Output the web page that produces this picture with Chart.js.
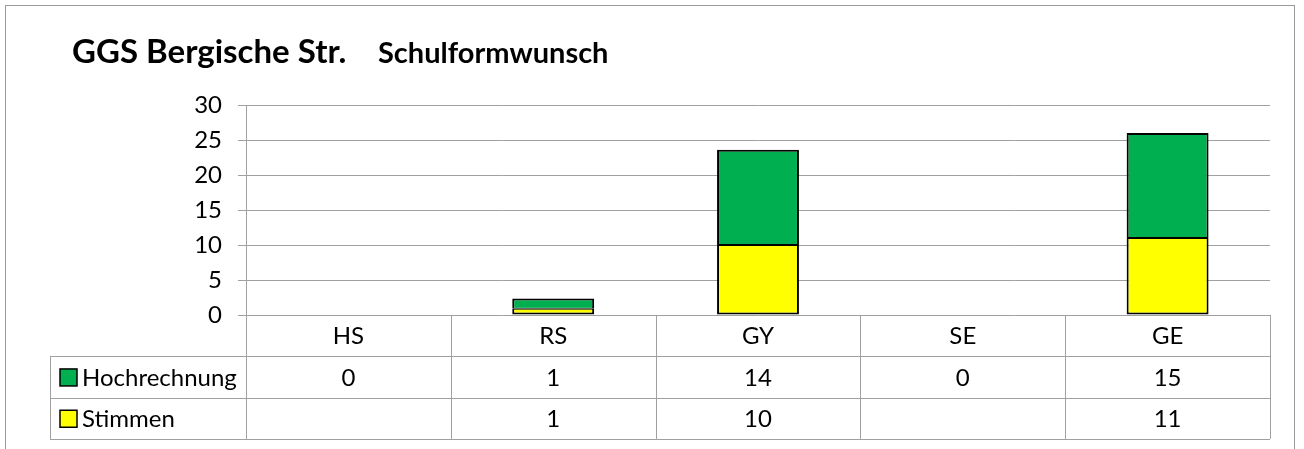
<!DOCTYPE html>
<html>
<head>
<meta charset="utf-8">
<script src="https://cdn.jsdelivr.net/npm/chart.js@4"></script>
<style>
  body { margin: 0; background: #fff; }
</style>
</head>
<body>
<canvas id="chart" width="1304" height="449"></canvas>
<script>
// DATEN
const schulformen = ['HS', 'RS', 'GY', 'SE', 'GE'];
const stimmen = [null, 0.9, 10, null, 11];
const hochrechnung = [0, 1.45, 13.6, 0, 15];
const yTicks = [0, 5, 10, 15, 20, 25, 30];

const titel = 'GGS Bergische Str.';
const untertitel = 'Schulformwunsch';

const gruen = '#00b050';
const gelb = '#ffff00';
const grau = '#a0a0a0';
const schrift = 'Lato, "Open Sans", sans-serif';

// Zeilen der Datentabelle (oben steht Hochrechnung)
const tabellenZeilen = [
  { name: 'Hochrechnung', werte: hochrechnung, farbe: gruen },
  { name: 'Stimmen', werte: stimmen, farbe: gelb }
];

const rahmenPlugin = {
  id: 'rahmen',
  beforeDraw(chart) {
    const ctx = chart.ctx;
    ctx.save();
    ctx.strokeStyle = '#9a9a9a';
    ctx.lineWidth = 1;
    ctx.strokeRect(5.5, 5.5, 1289, 500);
    ctx.restore();
  }
};

const titelPlugin = {
  id: 'titel',
  afterDraw(chart) {
    const ctx = chart.ctx;
    ctx.save();
    ctx.fillStyle = '#000';
    ctx.textBaseline = 'alphabetic';
    ctx.textAlign = 'left';
    ctx.font = 'bold 33px ' + schrift;
    ctx.fillText(titel, 72, 63);
    ctx.font = 'bold 29px ' + schrift;
    ctx.fillText(untertitel, 378, 63);
    ctx.restore();
  }
};

// Datentabelle unter dem Diagramm
const tabellePlugin = {
  id: 'tabelle',
  afterDraw(chart) {
    const ctx = chart.ctx;
    const xs = chart.scales.x;
    const area = chart.chartArea;
    const breite = (area.right - area.left) / schulformen.length;
    const oben = area.bottom;
    const zeile = 41.3;
    const links = 50;

    ctx.save();
    ctx.strokeStyle = grau;
    ctx.lineWidth = 1;

    // horizontale Linien
    ctx.beginPath();
    for (let r = 1; r <= 3; r++) {
      const y = Math.round(oben + r * zeile) + 0.5;
      ctx.moveTo(links, y);
      ctx.lineTo(area.right, y);
    }
    // vertikale Linien
    for (let i = 0; i <= schulformen.length; i++) {
      const x = Math.round(area.left + i * breite) + 0.5;
      ctx.moveTo(x, oben);
      ctx.lineTo(x, oben + 3 * zeile);
    }
    const xl = links + 0.5;
    ctx.moveTo(xl, oben + zeile);
    ctx.lineTo(xl, oben + 3 * zeile);
    ctx.stroke();

    ctx.fillStyle = '#000';
    ctx.font = '24px ' + schrift;
    ctx.textBaseline = 'middle';
    ctx.textAlign = 'center';

    schulformen.forEach((s, i) => {
      const x = xs.getPixelForValue(i);
      ctx.fillText(s, x, oben + zeile / 2 + 1);
      tabellenZeilen.forEach((z, r) => {
        const v = z.werte[i];
        if (v !== null) {
          ctx.fillText(String(Math.round(v)), x, oben + zeile * (r + 1.5) + 1);
        }
      });
    });

    // Legendenspalte
    ctx.textAlign = 'left';
    tabellenZeilen.forEach((z, r) => {
      const ym = oben + zeile * (r + 1.5);
      ctx.fillStyle = z.farbe;
      ctx.fillRect(60, ym - 8, 17, 17);
      ctx.strokeStyle = '#000';
      ctx.lineWidth = 1.5;
      ctx.strokeRect(60, ym - 8, 17, 17);
      ctx.fillStyle = '#000';
      ctx.fillText(z.name, 82, ym + 1);
    });
    ctx.restore();
  }
};

new Chart(document.getElementById('chart').getContext('2d'), {
  type: 'bar',
  data: {
    labels: schulformen,
    datasets: [
      {
        label: 'Stimmen',
        data: stimmen,
        backgroundColor: gelb,
        borderColor: '#000',
        borderWidth: { top: 1, left: 2, right: 2, bottom: 2 },
        borderSkipped: false
      },
      {
        label: 'Hochrechnung',
        data: hochrechnung,
        backgroundColor: gruen,
        borderColor: '#000',
        borderWidth: { top: 2, left: 2, right: 2, bottom: 1 },
        borderSkipped: false
      }
    ]
  },
  options: {
    responsive: false,
    animation: false,
    layout: { padding: { top: 105, bottom: 134, left: 0, right: 34 } },
    datasets: { bar: { barPercentage: 0.4, categoryPercentage: 1 } },
    plugins: {
      legend: { display: false },
      tooltip: { enabled: false },
      title: { display: false }
    },
    scales: {
      x: { stacked: true, display: false },
      y: {
        stacked: true,
        min: 0,
        max: 30,
        afterBuildTicks: (s) => { s.ticks = yTicks.map(v => ({ value: v })); },
        afterFit: (s) => { s.width = 246; },
        ticks: { color: '#000', font: { family: schrift, size: 24 }, padding: 16 },
        grid: { color: grau, lineWidth: 1, tickLength: 8 },
        border: { color: grau, width: 1 }
      }
    }
  },
  plugins: [rahmenPlugin, titelPlugin, tabellePlugin]
});
</script>
</body>
</html>
